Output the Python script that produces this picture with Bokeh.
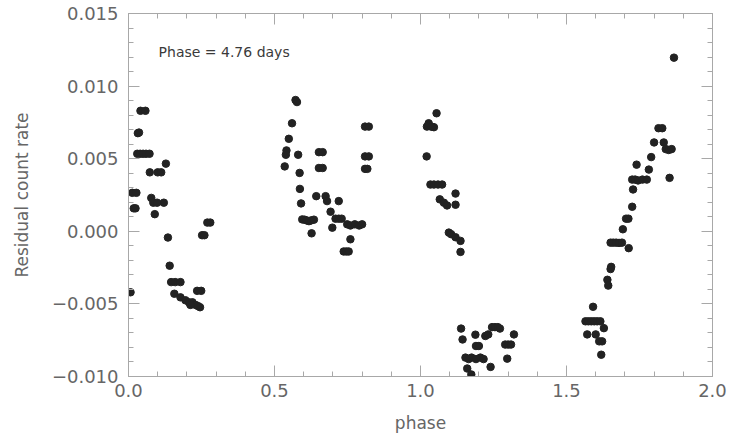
from bokeh.plotting import figure
from bokeh.models import (LinearAxis, SingleIntervalTicker, CustomJSTickFormatter,
                          Label, ColumnDataSource)
from bokeh.embed import file_html
from bokeh.resources import INLINE

# ---- data ----
phase_a = [0.007, 0.013, 0.027, 0.018, 0.024, 0.032, 0.036, 0.041, 0.058,
           0.030, 0.040, 0.050, 0.060, 0.072, 0.073, 0.100, 0.112, 0.128,
           0.078, 0.085, 0.098, 0.121, 0.090, 0.135, 0.141, 0.146, 0.160,
           0.178, 0.157, 0.178, 0.195, 0.207, 0.219, 0.230, 0.245, 0.212,
           0.238, 0.235, 0.249, 0.252, 0.260, 0.270, 0.280]
rate_a = [-0.0042, 0.00265, 0.00265, 0.00158, 0.00158, 0.00676, 0.0068, 0.0083, 0.0083,
          0.00534, 0.00534, 0.00534, 0.00534, 0.00534, 0.00406, 0.00406, 0.00406, 0.00466,
          0.0023, 0.00197, 0.00197, 0.00197, 0.00118, -0.00043, -0.00237, -0.0035, -0.0035,
          -0.0035, -0.0043, -0.00455, -0.00475, -0.00489, -0.00489, -0.00507, -0.00523, -0.00507,
          -0.00515, -0.0041, -0.0041, -0.00027, -0.00027, 0.0006, 0.0006]

phase_b = [0.572, 0.577, 0.560, 0.549, 0.541, 0.539, 0.581, 0.535, 0.586, 0.587,
           0.591, 0.595, 0.603, 0.610, 0.618, 0.625, 0.635, 0.627, 0.652, 0.665,
           0.652, 0.665, 0.643, 0.675, 0.680, 0.720, 0.692, 0.709, 0.720, 0.730,
           0.698, 0.749, 0.760, 0.775, 0.790, 0.800, 0.760, 0.737, 0.746, 0.754,
           0.810, 0.823, 0.810, 0.823, 0.810, 0.818]
rate_b = [0.00904, 0.0089, 0.00744, 0.00637, 0.00557, 0.00527, 0.00527, 0.00447, 0.00402, 0.00292,
          0.00192, 0.00082, 0.0008, 0.00075, 0.0007, 0.00075, 0.0008, -0.00014, 0.00545, 0.00545,
          0.00436, 0.00436, 0.00242, 0.00242, 0.00208, 0.00208, 0.00135, 0.00087, 0.00087, 0.00087,
          0.00025, 0.00048, 0.0004, 0.00048, 0.0004, 0.00048, -0.00055, -0.00139, -0.00139, -0.00139,
          0.00721, 0.00721, 0.00516, 0.00516, 0.0043, 0.0043]

phase_c = [1.055, 1.028, 1.022, 1.046, 1.038, 1.021, 1.034, 1.046, 1.060, 1.074,
           1.120, 1.066, 1.080, 1.091, 1.120, 1.097, 1.105, 1.120, 1.137, 1.137]
rate_c = [0.00813, 0.00744, 0.00721, 0.00717, 0.0072, 0.00516, 0.00322, 0.00322, 0.00322, 0.00322,
          0.0026, 0.0022, 0.00197, 0.00178, 0.00183, -0.00009, -0.0002, -0.00041, -0.00066, -0.00142]

phase_d = [1.139, 1.144, 1.188, 1.222, 1.232, 1.245, 1.255, 1.265, 1.272, 1.320,
           1.190, 1.200, 1.290, 1.300, 1.310, 1.154, 1.165, 1.175, 1.190, 1.205,
           1.216, 1.160, 1.174, 1.240, 1.297]
rate_d = [-0.0067, -0.00745, -0.00712, -0.00721, -0.0071, -0.0066, -0.0066, -0.0066, -0.0067, -0.0071,
          -0.0079, -0.0079, -0.0078, -0.0078, -0.0078, -0.0087, -0.0088, -0.0087, -0.0088, -0.0087,
          -0.0088, -0.00945, -0.00986, -0.00934, -0.00877]

phase_e = [1.868, 1.815, 1.828, 1.800, 1.833, 1.840, 1.850, 1.860, 1.790, 1.782,
           1.740, 1.725, 1.735, 1.745, 1.760, 1.775, 1.728, 1.853, 1.725, 1.704,
           1.712, 1.693, 1.651, 1.660, 1.670, 1.680, 1.690, 1.713, 1.651, 1.653,
           1.640, 1.643, 1.591, 1.565, 1.575, 1.585, 1.595, 1.605, 1.616, 1.571,
           1.600, 1.628, 1.612, 1.622, 1.619]
rate_e = [0.01196, 0.0071, 0.0071, 0.00612, 0.00612, 0.00566, 0.0056, 0.00566, 0.00511, 0.00425,
          0.00459, 0.00356, 0.00356, 0.0035, 0.00356, 0.00356, 0.00288, 0.00368, 0.00169, 0.00087,
          0.00087, 0.00014, -0.00078, -0.00078, -0.00078, -0.0008, -0.00078, -0.00116, -0.0026, -0.00245,
          -0.00334, -0.00374, -0.0052, -0.0062, -0.0062, -0.0062, -0.0062, -0.0062, -0.0062, -0.0071,
          -0.0071, -0.00667, -0.00758, -0.00758, -0.0085]

annotation = "Phase = 4.76 days"
x_title = "phase"
y_title = "Residual count rate"

phase = phase_a + phase_b + phase_c + phase_d + phase_e
rate = rate_a + rate_b + rate_c + rate_d + rate_e

FONT = "DejaVu Sans"
GRAY = "#666666"
FRAME = "#a8a8a8"

p = figure(width=733, height=435, x_range=(0.0, 2.0), y_range=(-0.010, 0.015),
           output_backend="svg", toolbar_location=None,
           min_border_left=128, min_border_right=21, min_border_top=13, min_border_bottom=57)
p.xgrid.visible = False
p.ygrid.visible = False
p.outline_line_color = FRAME
p.background_fill_color = "white"
p.border_fill_color = "white"

src = ColumnDataSource(dict(x=phase, y=rate))
p.scatter("x", "y", source=src, size=7.5, fill_color="#222222", line_color="#222222")

xt = SingleIntervalTicker(interval=0.5, num_minor_ticks=5)
yt = SingleIntervalTicker(interval=0.005, num_minor_ticks=5)
xfmt = CustomJSTickFormatter(code="return tick.toFixed(1);")
yfmt = CustomJSTickFormatter(code="if (Math.abs(tick) < 1e-9) {return '0.000';} return tick.toFixed(3).replace('-', '\u2212');")
blank = CustomJSTickFormatter(code="return '';")

def style(ax):
    ax.axis_line_color = FRAME
    ax.major_tick_line_color = FRAME
    ax.minor_tick_line_color = FRAME
    ax.major_tick_in = 11
    ax.major_tick_out = 0
    ax.minor_tick_in = 5
    ax.minor_tick_out = 0
    ax.major_label_text_font = FONT
    ax.major_label_text_color = GRAY
    ax.major_label_text_font_size = "18px"
    ax.axis_label_text_font = FONT
    ax.axis_label_text_color = GRAY
    ax.axis_label_text_font_size = "17px"
    ax.axis_label_text_font_style = "normal"

xa = p.xaxis[0]
xa.ticker = xt
xa.formatter = xfmt
style(xa)
xa.axis_label = x_title
xa.major_label_standoff = 7
xa.axis_label_standoff = 13

ya = p.yaxis[0]
ya.ticker = yt
ya.formatter = yfmt
style(ya)
ya.axis_label = y_title
ya.major_label_standoff = 10
ya.axis_label_standoff = 17

# mirrored tick marks (no labels) on the top and right edges
top = LinearAxis(ticker=SingleIntervalTicker(interval=0.5, num_minor_ticks=5),
                 formatter=blank, major_label_standoff=0)
style(top)
p.add_layout(top, "above")
right = LinearAxis(ticker=SingleIntervalTicker(interval=0.005, num_minor_ticks=5),
                   formatter=blank, major_label_standoff=0)
style(right)
p.add_layout(right, "right")

p.add_layout(Label(x=0.103, y=0.01235, text=annotation, text_font=FONT,
                   text_font_size="14px", text_color="#3a3a3a", text_baseline="middle"))

open("out.html", "w").write(file_html(p, INLINE))
